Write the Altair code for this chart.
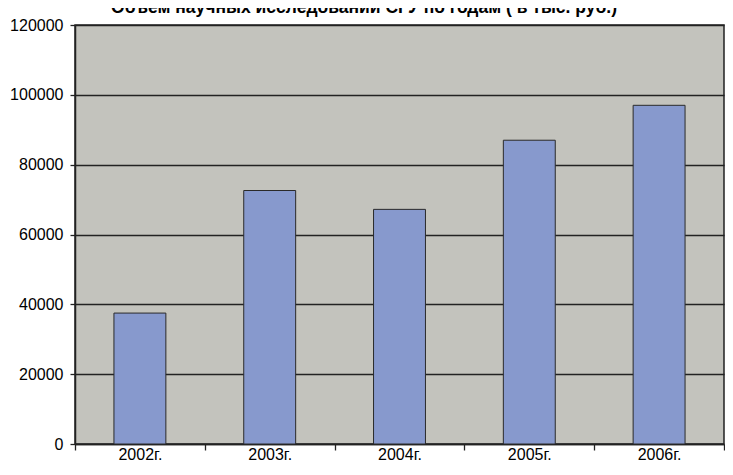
import altair as alt
import pandas as pd

years = ["2002г.", "2003г.", "2004г.", "2005г.", "2006г."]
values = [37500, 72600, 67200, 87000, 97000]
y_ticks = [0, 20000, 40000, 60000, 80000, 100000, 120000]
title_text = "Объем научных исследований СГУ по годам ( в тыс. руб.)"

df = pd.DataFrame({"year": years, "value": values})
font = "Liberation Sans"
dark = "#222222"

bars = alt.Chart(df).mark_bar(
    width=alt.RelativeBandSize(0.4), color="#8799CD", stroke="#2a2a2a", strokeWidth=1
).encode(
    x=alt.X("year:N", sort=years,
            scale=alt.Scale(paddingInner=0, paddingOuter=0),
            axis=alt.Axis(title=None, labelAngle=0, tickBand="extent", grid=False,
                          labelFont=font, labelFontSize=16, labelColor="black",
                          tickSize=6, tickColor=dark, tickWidth=1.3,
                          domainColor=dark, domainWidth=1.5,
                          labelPadding=9, labelBaseline="alphabetic")),
    y=alt.Y("value:Q", scale=alt.Scale(domain=[0, 120000], nice=False),
            axis=alt.Axis(title=None, values=y_ticks, format="d",
                          labelFont=font, labelFontSize=16, labelColor="black",
                          tickSize=5, tickColor=dark, tickWidth=1.3,
                          domainColor=dark, domainWidth=1.5,
                          labelPadding=7,
                          grid=True, gridColor=dark, gridWidth=1.4, gridOpacity=1)),
)

title = alt.Chart(pd.DataFrame({"t": [title_text]})).mark_text(
    font=font, fontSize=17.5, fontWeight="bold", color="black", baseline="alphabetic", align="center"
).encode(text="t:N", x=alt.value(289), y=alt.value(-12))

chart = alt.layer(bars, title).properties(
    width=649, height=419,
    autosize=alt.AutoSizeParams(type="none"),
    padding={"left": 67, "top": 17, "right": 1, "bottom": 20},
).configure_view(fill="#C3C3BD", stroke=dark, strokeWidth=1.5)

chart.save("out.html", embed_options={"renderer": "svg", "actions": False})
